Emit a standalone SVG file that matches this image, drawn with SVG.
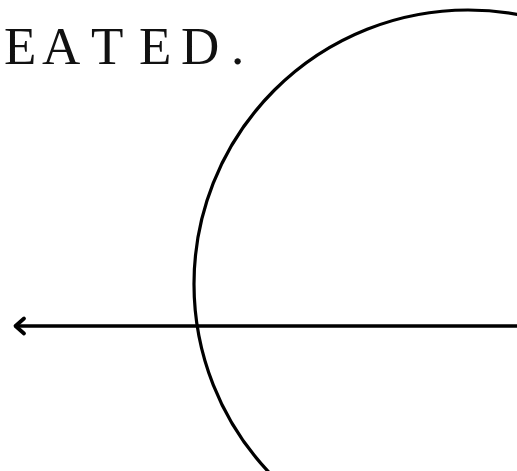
<svg xmlns="http://www.w3.org/2000/svg" width="517" height="471" viewBox="0 0 517 471">
  <defs>
    <style>
      .stroke { fill: none; stroke: #000; stroke-linecap: round; stroke-linejoin: round; }
      .title { font-family: "Liberation Serif", "Times New Roman", serif; font-size: 53px; fill: #111; }
    </style>
  </defs>
  <rect width="517" height="471" fill="#fff"/>
  <g id="title">
    <text class="title" x="4 42 91 139 181 231" y="64">EATED.</text>
  </g>
  <g id="circle">
    <circle class="stroke" cx="468" cy="284" r="274" stroke-width="3.2"/>
  </g>
  <g id="connectors">
    <line class="stroke" x1="520" y1="326" x2="16" y2="326" stroke-width="3.6"/>
    <path class="stroke" d="M24 318.5 L15.5 326 L24 333.5" stroke-width="3.8"/>
  </g>
</svg>
